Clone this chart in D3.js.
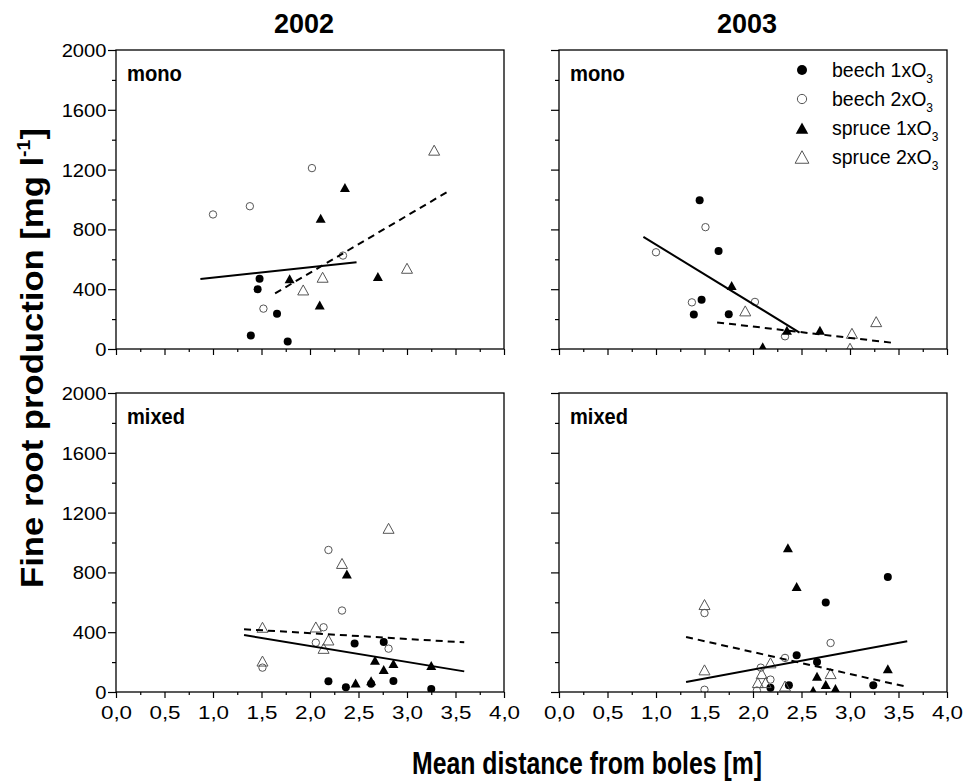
<!DOCTYPE html>
<html>
<head>
<meta charset="utf-8">
<script src="https://cdn.jsdelivr.net/npm/d3@7"></script>
<style>
  body { margin: 0; background: #fff; }
  svg { display: block; font-family: "Liberation Sans", Arial, sans-serif; }
</style>
</head>
<body>
<svg id="chart" width="963" height="782"></svg>
<script>
// ---- data: [distance m, fine root production mg/l] ----
const xTicks = [0, 0.5, 1, 1.5, 2, 2.5, 3, 3.5, 4];
const xMinor = [0.25, 0.75, 1.25, 1.75, 2.25, 2.75, 3.25, 3.75];
const yTicks = [0, 400, 800, 1200, 1600, 2000];
const yMinor = [200, 600, 1000, 1400, 1800];
const years = ["2002", "2003"];
const stands = ["mono", "mixed"];
const seriesNames = ["beech 1xO", "beech 2xO", "spruce 1xO", "spruce 2xO"];

// mono 2002
const mono02_beech1 = [[1.48, 470], [1.46, 400], [1.66, 235], [1.39, 90], [1.77, 50]];
const mono02_beech2 = [[1.0, 900], [1.38, 955], [2.02, 1210], [2.34, 625], [1.52, 270]];
const mono02_spruce1 = [[2.36, 1080], [2.11, 875], [1.79, 470], [2.10, 295], [2.70, 485]];
const mono02_spruce2 = [[3.28, 1330], [3.0, 540], [2.13, 480], [1.93, 395]];
const mono02_fit1 = [[0.87, 468], [2.48, 580]];
const mono02_fit2 = [[1.64, 372], [3.44, 1060]];

// mono 2003
const mono03_beech1 = [[1.45, 995], [1.645, 655], [1.47, 330], [1.39, 230], [1.75, 232]];
const mono03_beech2 = [[1.0, 647], [1.51, 815], [1.37, 312], [2.02, 315], [2.33, 85]];
const mono03_spruce1 = [[1.78, 425], [2.35, 125], [2.69, 125], [2.1, 15]];
const mono03_spruce2 = [[1.92, 255], [3.02, 105], [3.27, 183], [3.0, 5]];
const mono03_fit1 = [[0.87, 750], [2.48, 110]];
const mono03_fit2 = [[1.63, 178], [3.43, 42]];

// mixed 2002
const mixed02_beech1 = [[2.46, 325], [2.76, 335], [2.19, 72], [2.37, 32], [2.63, 55], [2.86, 74], [3.25, 20]];
const mixed02_beech2 = [[2.19, 950], [2.33, 545], [2.14, 433], [2.06, 330], [2.81, 290], [1.51, 163]];
const mixed02_spruce1 = [[2.38, 790], [2.67, 212], [2.76, 150], [2.86, 190], [3.25, 178], [2.47, 60], [2.63, 75]];
const mixed02_spruce2 = [[2.81, 1095], [2.33, 860], [1.51, 433], [2.06, 435], [2.19, 348], [2.14, 292], [1.51, 207]];
const mixed02_fit1 = [[1.32, 381], [3.59, 138]];
const mixed02_fit2 = [[1.32, 420], [3.59, 332]];

// mixed 2003
const mixed03_beech1 = [[3.39, 770], [2.75, 598], [2.45, 245], [2.66, 200], [2.37, 45], [2.18, 28], [3.24, 45]];
const mixed03_beech2 = [[1.50, 528], [2.80, 328], [2.33, 228], [2.08, 163], [2.18, 83], [1.50, 15], [2.04, 10]];
const mixed03_spruce1 = [[2.36, 965], [2.45, 705], [3.39, 155], [2.66, 105], [2.75, 50], [2.85, 23], [2.62, 10]];
const mixed03_spruce2 = [[1.50, 585], [1.50, 148], [2.18, 195], [2.09, 123], [2.80, 123], [2.05, 63], [2.13, 63], [2.33, 40]];
const mixed03_fit1 = [[1.31, 67], [3.59, 340]];
const mixed03_fit2 = [[1.31, 368], [3.59, 34]];

// ---- layout ----
const W = 388, H = 299;
const panels = [
  { year: 0, stand: 0, left: 116, top: 50, s: [mono02_beech1, mono02_beech2, mono02_spruce1, mono02_spruce2], fit1: mono02_fit1, fit2: mono02_fit2 },
  { year: 1, stand: 0, left: 559, top: 50, s: [mono03_beech1, mono03_beech2, mono03_spruce1, mono03_spruce2], fit1: mono03_fit1, fit2: mono03_fit2 },
  { year: 0, stand: 1, left: 116, top: 393, s: [mixed02_beech1, mixed02_beech2, mixed02_spruce1, mixed02_spruce2], fit1: mixed02_fit1, fit2: mixed02_fit2 },
  { year: 1, stand: 1, left: 559, top: 393, s: [mixed03_beech1, mixed03_beech2, mixed03_spruce1, mixed03_spruce2], fit1: mixed03_fit1, fit2: mixed03_fit2 }
];

const svg = d3.select("#chart");
const deFmt = d3.formatLocale({ decimal: ",", thousands: ".", grouping: [3], currency: ["", ""] }).format(".1f");

// squeeze bold condensed text to a measured width
function fitWidth(textSel, target) {
  const w = textSel.node().getBBox().width;
  return target / w;
}

// marker painters
function triPath(w, h) {
  return `M0,${-h / 2}L${w / 2},${h / 2}L${-w / 2},${h / 2}Z`;
}
function drawMarker(g, type, x, y, big) {
  const k = big ? 1.25 : 1;
  if (type === 0) {
    g.append("circle").attr("cx", x).attr("cy", y).attr("r", 4 * k).attr("fill", "#000");
  } else if (type === 1) {
    g.append("circle").attr("cx", x).attr("cy", y).attr("r", 3.7 * k)
      .attr("fill", "none").attr("stroke", "#555").attr("stroke-width", 1);
  } else if (type === 2) {
    g.append("path").attr("d", triPath(10 * k, 9 * k)).attr("transform", `translate(${x},${y})`).attr("fill", "#000");
  } else {
    g.append("path").attr("d", triPath(11 * k, 10 * k)).attr("transform", `translate(${x},${y})`)
      .attr("fill", "none").attr("stroke", "#555").attr("stroke-width", 1);
  }
}

panels.forEach((p, i) => {
  const x = d3.scaleLinear().domain([0, 4]).range([p.left, p.left + W]);
  const y = d3.scaleLinear().domain([0, 2000]).range([p.top + H, p.top]);
  const bottom = p.top + H;

  // axes
  const xa = svg.append("g").attr("transform", `translate(0,${bottom})`)
    .call(d3.axisBottom(x).tickValues(xTicks).tickSize(6).tickSizeOuter(0)
      .tickFormat(p.stand === 1 ? deFmt : ""));
  svg.append("g").attr("transform", `translate(0,${bottom})`)
    .call(d3.axisBottom(x).tickValues(xMinor).tickSize(3).tickSizeOuter(0).tickFormat(""));
  const ya = svg.append("g").attr("transform", `translate(${p.left},0)`)
    .call(d3.axisLeft(y).tickValues(yTicks).tickSize(8).tickSizeOuter(0)
      .tickFormat(p.year === 0 ? d3.format("d") : ""));
  svg.append("g").attr("transform", `translate(${p.left},0)`)
    .call(d3.axisLeft(y).tickValues(yMinor).tickSize(4).tickSizeOuter(0).tickFormat(""));
  svg.selectAll(".domain").remove();
  svg.selectAll(".tick line").attr("stroke", "#000").attr("stroke-width", 1.2);
  xa.selectAll("text").attr("font-size", 19).attr("fill", "#000").attr("dy", null).attr("y", 27)
    .attr("transform", "scale(1.18,1)");
  ya.selectAll("text").attr("font-size", 18).attr("fill", "#000").attr("x", -8.5).attr("dy", "0.36em")
    .attr("transform", "scale(1.12,1)");

  // clip + marks
  const clipId = "clip" + i;
  svg.append("clipPath").attr("id", clipId)
    .append("rect").attr("x", p.left).attr("y", p.top).attr("width", W).attr("height", H);
  const g = svg.append("g").attr("clip-path", `url(#${clipId})`);
  p.s.forEach((pts, t) => pts.forEach(d => drawMarker(g, t, x(d[0]), y(d[1]), false)));

  const line = d3.line().x(d => x(d[0])).y(d => y(d[1]));
  g.append("path").attr("d", line(p.fit1)).attr("fill", "none").attr("stroke", "#000").attr("stroke-width", 2);
  g.append("path").attr("d", line(p.fit2)).attr("fill", "none").attr("stroke", "#000").attr("stroke-width", 2)
    .attr("stroke-dasharray", "7,5");

  // frame
  svg.append("rect").attr("x", p.left).attr("y", p.top).attr("width", W).attr("height", H)
    .attr("fill", "none").attr("stroke", "#000").attr("stroke-width", 1.3);

  // stand label
  const lg = svg.append("g").attr("transform", `translate(${p.left + 11},${p.top + 31})`);
  const lt = lg.append("text").attr("font-size", 22).attr("font-weight", "bold").text(stands[p.stand]);
  lt.attr("transform", `scale(${fitWidth(lt, p.stand === 0 ? 55 : 58)},1)`);

  // year title
  if (p.stand === 0) {
    svg.append("text").attr("x", p.left + W / 2 - 6).attr("y", 33).attr("text-anchor", "middle")
      .attr("font-size", 27).attr("font-weight", "bold").text(years[p.year]);
  }
});

// legend (in mono 2003 panel)
const leg = svg.append("g");
seriesNames.forEach((name, i) => {
  const cy = 70 + i * 29;
  drawMarker(leg, i, 802, cy, true);
  const t = leg.append("text").attr("x", 832).attr("y", cy + 7).attr("font-size", 19.5).attr("fill", "#000");
  t.append("tspan").text(name);
  t.append("tspan").attr("font-size", 12).attr("dy", 6).text("3");
});

// x axis title
const xg = svg.append("g").attr("transform", "translate(587,774)");
const xt = xg.append("text").attr("text-anchor", "middle").attr("font-size", 31).attr("font-weight", "bold")
  .text("Mean distance from boles [m]");
xt.attr("transform", `scale(${fitWidth(xt, 350)},1)`);

// y axis title
const yg = svg.append("g").attr("transform", "translate(43,358) rotate(-90)");
const yt = yg.append("text").attr("text-anchor", "middle").attr("font-size", 32).attr("font-weight", "bold");
yt.append("tspan").text("Fine root production [mg l");
yt.append("tspan").attr("font-size", 18).attr("dy", -13).text("-1");
yt.append("tspan").attr("dy", 13).text("]");
yt.attr("transform", `scale(${fitWidth(yt, 460)},1)`);
</script>
</body>
</html>
